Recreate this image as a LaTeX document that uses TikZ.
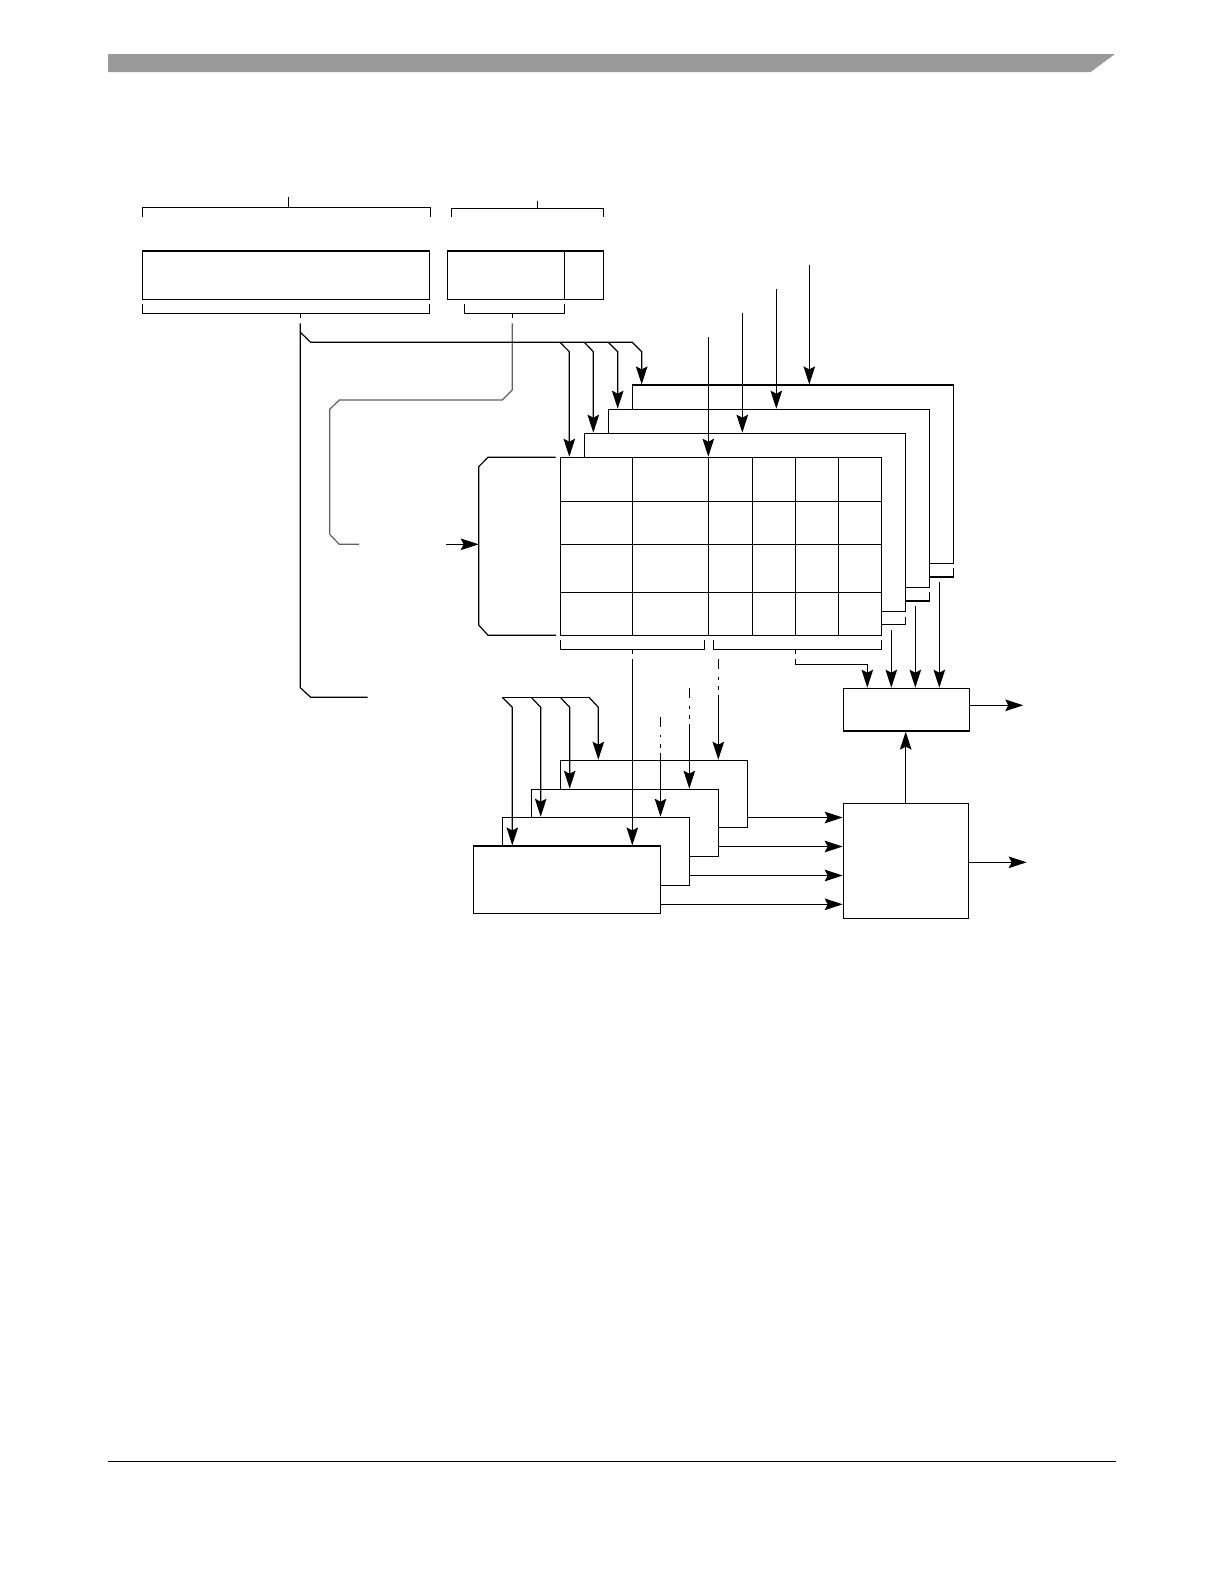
\documentclass[tikz,border=0pt]{standalone}
\usetikzlibrary{arrows.meta,fit}
\definecolor{hdrgray}{HTML}{9A9A9A}
\newcommand\mydashdrop[3]{%
  \draw (#1,#2) -- (#1,#2+10);
  \draw (#1,#2+18) -- (#1,#2+20.5);
  \draw (#1,#2+27) -- (#1,#2+31);
  \draw[arr] (#1,#2+36) -- (#1,#2+36 |- #3);}
\begin{document}
\begin{tikzpicture}[x=0.5bp,y=-0.5bp,line width=0.6bp,
  blk/.style={draw,fill=white,inner sep=0pt,line width=0.6bp},
  arr/.style={-{Stealth[length=9bp,width=5.8bp,inset=1.5bp]}},
  gline/.style={draw=black!62}]
\useasboundingbox (0,0) rectangle (1224,1584);
% header and footer
\fill[hdrgray] (108,54) -- (1115,54) -- (1090.7,72) -- (108,72) -- cycle;
\draw[line width=0.8bp] (108,1461.3) -- (1116,1461.3);
% top brackets
\draw (142.3,217.3) -- (142.3,207.3) -- (430.3,207.3) -- (430.3,217.3);
\draw (288.3,197.3) -- (288.3,207.3);
\draw (451.3,217.3) -- (451.3,208.3) -- (603.3,208.3) -- (603.3,217.3);
\draw (537.3,201) -- (537.3,208.3);
% top registers
\node[blk,fit={(142.3,251)(429.7,299.3)}] (regA) {};
\node[blk,fit={(447.3,251)(603.3,299.3)}] (regB) {};
\draw (564.7,251) -- (564.7,299.3);
% brackets under registers
\draw (142.3,304) -- (142.3,313.3) -- (429.7,313.3) -- (429.7,304);
\draw (300.3,313.3) -- (300.3,318.3);
\draw (464.3,304) -- (464.3,313.3) -- (564.7,313.3) -- (564.7,304);
\draw (512.3,313.3) -- (512.3,318.3);
% left bus
\draw (300.3,323.3) -- (300.3,687.7) -- (310.7,697.3) -- (367.7,697.3);
% gray path
\draw[gline] (512.3,323.3) -- (512.3,390) -- (502.3,400) -- (339.3,400) -- (329.7,409.3) -- (329.7,534.3) -- (339.3,544.3) -- (359,544.3);
% decoder-like shape
\draw (555.7,457.3) -- (488,457.3) -- (478.7,466.7) -- (478.7,625) -- (488,635.3) -- (556,635.3);
\coordinate (decin) at (478.7,544.3);
\draw[arr] (446,544.3) -- (decin);
% stacked arrays
\node[blk,fit={(632.3,385)(953.3,563.3)}] (m4) {};
\node[blk,fit={(608.3,409.3)(929.3,587.3)}] (m3) {};
\node[blk,fit={(584.3,433.3)(905.3,611.3)}] (m2) {};
\node[blk,fit={(560.3,457.3)(881.3,635.3)}] (m1) {};
\foreach \x in {632.3,708.3,752.3,795.3,838.3} \draw (\x,457.3) -- (\x,635.3);
\foreach \y in {501.5,544.3,592.3} \draw (560.3,\y) -- (881.3,\y);
% top fan
\draw[arr] (300.3,332.3) -- (310.7,342.3) -- (632.3,342.3) -- (641.7,351.7) -- (641.7,351.7 |- m4.north);
\draw[arr] (560,342.3) -- (569.3,351.7) -- (569.3,351.7 |- m1.north);
\draw[arr] (584.3,342.3) -- (593.3,351.7) -- (593.3,351.7 |- m2.north);
\draw[arr] (608.3,342.3) -- (617.7,351.7) -- (617.7,351.7 |- m3.north);
% right top inputs
\draw[arr] (809.3,265) -- (809.3,265 |- m4.north);
\draw[arr] (776.3,289) -- (776.3,289 |- m3.north);
\draw[arr] (742.3,313) -- (742.3,313 |- m2.north);
\draw[arr] (708.3,337) -- (708.3,337 |- m1.north);
% output brackets of the stacked arrays
\draw (881.3,624.7) -- (905.3,624.7) -- (905.3,616.7);
\draw (905.3,601) -- (929.3,601) -- (929.3,592.3);
\draw (929.3,577) -- (953.3,577) -- (953.3,568.3);
% select box
\node[blk,fit={(843.3,688.3)(969.3,731)}] (sel) {};
\draw[arr] (891.3,630) -- (891.3,630 |- sel.north);
\draw[arr] (915.3,606) -- (915.3,606 |- sel.north);
\draw[arr] (939.3,582.3) -- (939.3,582.3 |- sel.north);
% grid brackets
\draw (560.3,640) -- (560.3,649.3) -- (704.3,649.3) -- (704.3,640);
\draw (713.3,640) -- (713.3,649.3) -- (881.3,649.3) -- (881.3,640);
\draw (632.3,649.3) -- (632.3,654.3);
\draw (795.3,649.3) -- (795.3,654.3);
\draw[arr] (795.3,659.3) -- (795.3,664.3) -- (867.3,664.3) -- (867.3,664.3 |- sel.north);
% compare box
\node[blk,fit={(843.3,803.3)(968.7,918.3)}] (cmp) {};
\draw[arr] (905.7,803.3) -- (905.7,803.3 |- sel.south);
\draw[arr] (969.3,705.3) -- (1023.3,705.3);
\draw[arr] (968.7,862.3) -- (1026.7,862.3);
% bottom stacked boxes
\node[blk,fit={(560.3,760.3)(747.3,827.3)}] (dA) {};
\node[blk,fit={(531.3,789.3)(718.3,856.3)}] (dB) {};
\node[blk,fit={(502.3,817.3)(689.3,885.3)}] (dC) {};
\node[blk,fit={(473.3,846)(660.3,913.3)}] (dD) {};
\draw[arr] (747.3,817.5) -- (747.3,817.5 -| cmp.west);
\draw[arr] (718.3,846.5) -- (718.3,846.5 -| cmp.west);
\draw[arr] (689.3,875.5) -- (689.3,875.5 -| cmp.west);
\draw[arr] (660.3,904.3) -- (660.3,904.3 -| cmp.west);
% inputs to bottom boxes
\draw[arr] (632.3,659.3) -- (632.3,659.3 |- dD.north);
\mydashdrop{718.3}{659.3}{dA.north}
\mydashdrop{689.3}{688.3}{dB.north}
\mydashdrop{660.5}{716.7}{dC.north}
% bottom fan
\draw (502.3,697.3) -- (589,697.3);
\draw[arr] (502.3,697.3) -- (512.3,707.3) -- (512.3,707.3 |- dD.north);
\draw[arr] (531.3,697.3) -- (540.7,707.3) -- (540.7,707.3 |- dC.north);
\draw[arr] (560.3,697.3) -- (569.7,707.3) -- (569.7,707.3 |- dB.north);
\draw[arr] (589,697.3) -- (598.3,707.3) -- (598.3,707.3 |- dA.north);
\end{tikzpicture}
\end{document}
